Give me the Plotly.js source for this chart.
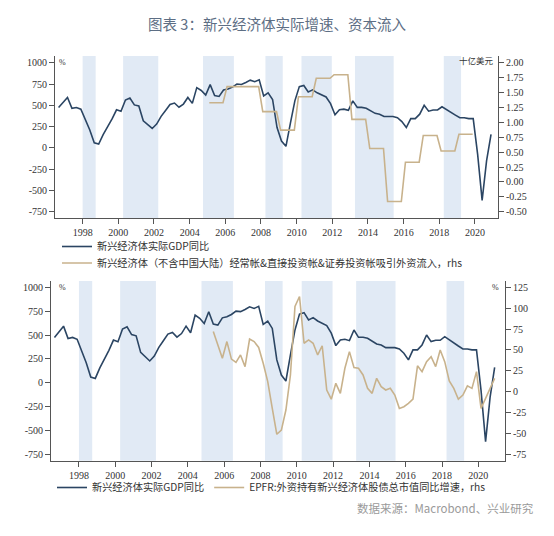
<!DOCTYPE html>
<html>
<head>
<meta charset="utf-8">
<script src="https://cdn.plot.ly/plotly-3.0.1.min.js"></script>
<style>html,body{margin:0;padding:0;background:#fff;}#chart{width:554px;height:536px;}</style>
</head>
<body>
<div id="chart"></div>
<script>
// ---- Data ----
// Quarterly series: first point position (decimal year) and quarter step
const gdpStart = 1996.65;
const gdpYoY = [475,535,593,464,475,455,330,210,60,45,
  155,245,340,447,430,562,586,505,492,318,
  275,228,280,370,440,510,527,478,515,593,
  523,708,675,621,743,614,604,680,691,715,
  750,745,768,796,778,800,611,646,569,239,
  80,18,291,553,720,734,658,682,647,623,
  598,520,389,448,455,441,553,476,476,466,
  438,406,396,368,368,368,354,309,239,344,
  344,396,500,431,445,445,483,448,413,385,
  354,354,344,344,-80,-617,-150,160];

const epfrStart = 2005.4;
const epfrYoY = [72,56,40,60,39,35,44,30,63,60,
  53,34,12,-20,-51,-46,-22,20,102,114,
  58,62,58,44,55,2,-9,10,-2,28,
  48,29,28,20,4,-2,16,6,2,4,
  -4,-20,-18,-14,-9,31,24,36,42,30,
  50,36,13,4,-9,-4,7,4,24,-20,
  -8,4,16];

// Annual capital inflows (rhs)
const inflowYears = [2005,2006,2007,2008,2009,2010,2011,2012,2013,2014,2015,2016,2017,2018,2019];
const inflowVals  = [1.33,1.60,1.60,1.18,0.87,1.43,1.74,1.80,1.05,0.56,-0.33,0.33,0.78,0.52,0.80];

// Shaded periods (decimal years)
const shadeStart = [1998.0,2000.27,2004.75,2008.25,2010.27,2013.27,2018.25];
const shadeEnd   = [1998.73,2002.24,2006.48,2009.22,2011.97,2015.44,2019.22];

// Tick labels
const xTickVals = [1998,2000,2002,2004,2006,2008,2010,2012,2014,2016,2018,2020];
const xTickText = ['1998','2000','2002','2004','2006','2008','2010','2012','2014','2016','2018','2020'];
const leftTickVals = [1000,750,500,250,0,-250,-500,-750];
const leftTickText = ['1000','750','500','250','0','-250','-500','-750'];
const rTopTickVals = [2,1.75,1.5,1.25,1,0.75,0.5,0.25,0,-0.25,-0.5];
const rTopTickText = ['2.00','1.75','1.50','1.25','1.00','0.75','0.50','0.25','0.00','-0.25','-0.50'];
const rBotTickVals = [125,100,75,50,25,0,-25,-50,-75];
const rBotTickText = ['125','100','75','50','25','0','-25','-50','-75'];

const nameGDP = '新兴经济体实际GDP同比';
const nameInflow = '新兴经济体（不含中国大陆）经常帐&直接投资帐&证券投资帐吸引外资流入，rhs';
const nameEPFR = 'EPFR:外资持有新兴经济体股债总市值同比增速，rhs';

// ---- Build x positions ----
function quarterly(start, n){ const a=[]; for(let i=0;i<n;i++) a.push(+(start+0.25*i).toFixed(3)); return a; }
const gdpX = quarterly(gdpStart, gdpYoY.length);
const epfrX = quarterly(epfrStart, epfrYoY.length);
const inflowX = [], inflowY = [];
inflowYears.forEach((yr,i)=>{ inflowX.push(yr+0.1, yr+0.87); inflowY.push(inflowVals[i], inflowVals[i]); });

const W = 554, H = 536;
const px = v => v / W;
const py = v => 1 - v / H;

const cDark = '#2b4563';
const cTan = '#c8b28c';
const cShade = '#e1eaf5';
const cAxis = '#555555';
const tickFont = {family: 'Liberation Serif, serif', size: 10, color: '#333'};
const cjk = 'Noto Sans CJK SC, sans-serif';
const legFont = {family:cjk, size:10.2, color:'#333'};

const traces = [
  {x: gdpX, y: gdpYoY, type:'scatter', mode:'lines', name: nameGDP, xaxis:'x', yaxis:'y',
   line:{color:cDark, width:1.6}, legend:'legend'},
  {x: inflowX, y: inflowY, type:'scatter', mode:'lines', name: nameInflow, xaxis:'x', yaxis:'y2',
   line:{color:cTan, width:1.6}, legend:'legend3'},
  {x: gdpX, y: gdpYoY, type:'scatter', mode:'lines', name: nameGDP, xaxis:'x2', yaxis:'y3',
   line:{color:cDark, width:1.6}, legend:'legend2'},
  {x: epfrX, y: epfrYoY, type:'scatter', mode:'lines', name: nameEPFR, xaxis:'x2', yaxis:'y4',
   line:{color:cTan, width:1.6}, legend:'legend2'}
];

const shapes = [];
shadeStart.forEach((s,i)=>{
  shapes.push({type:'rect', xref:'x', yref:'y domain', x0:s, x1:shadeEnd[i], y0:0, y1:1,
    fillcolor:cShade, line:{width:0}, layer:'below'});
  shapes.push({type:'rect', xref:'x2', yref:'y3 domain', x0:s, x1:shadeEnd[i], y0:0, y1:1,
    fillcolor:cShade, line:{width:0}, layer:'below'});
});

const axisCommon = {showline:true, linecolor:cAxis, linewidth:1, ticks:'outside', ticklen:5,
  tickcolor:cAxis, tickwidth:1, showgrid:false, zeroline:false, tickfont:tickFont, fixedrange:true};

const topL = [-828, 1080];
const topR = [(topL[0]+750)/700-0.5, (topL[1]+750)/700-0.5];
const botL = [-817, 1066];
const botR = [-75+(botL[0]+750)*200/1750, -75+(botL[1]+750)*200/1750];

const legBase = {xanchor:'left', yanchor:'top', bgcolor:'rgba(0,0,0,0)', font:legFont, traceorder:'normal'};

const layout = {
  width: W, height: H,
  margin:{l:0,r:0,t:0,b:0},
  paper_bgcolor:'#fff', plot_bgcolor:'rgba(0,0,0,0)',
  title:{text:'图表 3：新兴经济体实际增速、资本流入', x:0.5, xanchor:'center', y:py(25), yanchor:'middle',
    yref:'container', font:{family:cjk, size:14.5, color:'#5d6e84'}},
  xaxis: Object.assign({}, axisCommon, {domain:[px(55), px(498)], range:[1996.45, 2021.29], anchor:'y',
    tickvals:xTickVals, ticktext:xTickText}),
  yaxis: Object.assign({}, axisCommon, {domain:[py(218.3), py(56)], range:topL, anchor:'x',
    tickvals:leftTickVals, ticktext:leftTickText}),
  yaxis2: Object.assign({}, axisCommon, {overlaying:'y', side:'right', anchor:'x', range:topR,
    tickvals:rTopTickVals, ticktext:rTopTickText}),
  xaxis2: Object.assign({}, axisCommon, {domain:[px(51), px(505)], range:[1996.46, 2021.47], anchor:'y3',
    tickvals:xTickVals, ticktext:xTickText}),
  yaxis3: Object.assign({}, axisCommon, {domain:[py(460.7), py(281)], range:botL, anchor:'x2',
    tickvals:leftTickVals, ticktext:leftTickText}),
  yaxis4: Object.assign({}, axisCommon, {overlaying:'y3', side:'right', anchor:'x2', range:botR,
    tickvals:rBotTickVals, ticktext:rBotTickText}),
  shapes: shapes,
  showlegend:true,
  legend: Object.assign({}, legBase, {x:px(57), y:py(232), orientation:'v'}),
  legend3: Object.assign({}, legBase, {x:px(57), y:py(248.5), orientation:'v'}),
  legend2: Object.assign({}, legBase, {x:px(52), y:py(473), orientation:'h'}),
  annotations:[
    {text:'%', xref:'paper', yref:'paper', x:px(57), y:py(63), xanchor:'left', yanchor:'middle', showarrow:false,
      font:{family:'Liberation Serif, serif', size:8, color:'#333'}},
    {text:'十亿美元', xref:'paper', yref:'paper', x:px(496), y:py(60), xanchor:'right', yanchor:'middle', showarrow:false,
      font:{family:cjk, size:8.5, color:'#333'}},
    {text:'%', xref:'paper', yref:'paper', x:px(57), y:py(287.5), xanchor:'left', yanchor:'middle', showarrow:false,
      font:{family:'Liberation Serif, serif', size:8, color:'#333'}},
    {text:'%', xref:'paper', yref:'paper', x:px(501), y:py(287.5), xanchor:'right', yanchor:'middle', showarrow:false,
      font:{family:'Liberation Serif, serif', size:8, color:'#333'}},
    {text:'数据来源：Macrobond、兴业研究', xref:'paper', yref:'paper', x:px(536), y:py(508), xanchor:'right', yanchor:'middle', showarrow:false,
      font:{family:cjk, size:11.5, color:'#9a9a9a'}}
  ]
};

Plotly.newPlot('chart', traces, layout, {staticPlot:true, displayModeBar:false});
</script>
</body>
</html>
